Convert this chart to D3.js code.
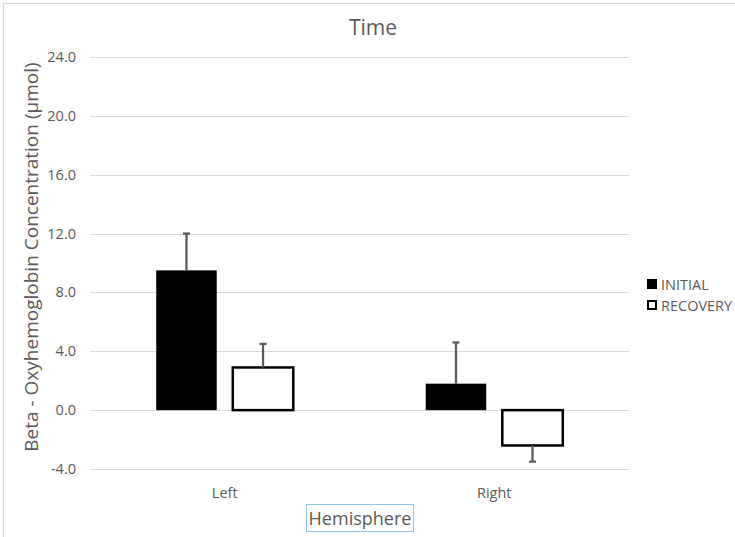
<!DOCTYPE html>
<html>
<head>
<meta charset="utf-8">
<script src="https://cdn.jsdelivr.net/npm/d3@7"></script>
<style>
  body { margin: 0; background: #fff; }
  svg text { font-family: "Open Sans", sans-serif; fill: #595959; }
</style>
</head>
<body>
<svg width="735" height="537"></svg>
<script>
var categories = ["Left", "Right"];
var seriesNames = ["INITIAL", "RECOVERY"];
var initialValues = [9.5, 1.8];
var recoveryValues = [2.9, -2.4];
var initialErrors = [2.5, 2.8];
var recoveryErrors = [1.6, 1.1];
var yTicks = [-4, 0, 4, 8, 12, 16, 20, 24];

var svg = d3.select("svg");

// chart border (cropped screenshot)
svg.append("rect")
    .attr("x", 3.5).attr("y", 3.5)
    .attr("width", 760).attr("height", 560)
    .attr("fill", "none")
    .attr("stroke", "#d9d9d9");

var x0 = d3.scaleBand().domain(categories).range([90, 629]);
var x1 = d3.scaleBand().domain(seriesNames).range([0, x0.bandwidth()])
    .paddingInner(0.21).paddingOuter(0.865);
var y = d3.scaleLinear().domain([-4, 24]).range([469, 57]);

// gridlines
svg.append("g").selectAll("line")
    .data(yTicks)
    .enter().append("line")
    .attr("x1", 90).attr("x2", 629)
    .attr("y1", function(d) { return Math.round(y(d)) + 0.5; })
    .attr("y2", function(d) { return Math.round(y(d)) + 0.5; })
    .attr("stroke", "#d9d9d9");

// y tick labels
svg.append("g").selectAll("text")
    .data(yTicks)
    .enter().append("text")
    .attr("x", 76)
    .attr("y", function(d) { return y(d) + 5; })
    .attr("text-anchor", "end")
    .style("font-size", "14.5px")
    .text(function(d) { return d.toFixed(1); });

var rows = [];
categories.forEach(function(c, i) {
    rows.push({cat: c, s: "INITIAL", v: initialValues[i], e: initialErrors[i]});
    rows.push({cat: c, s: "RECOVERY", v: recoveryValues[i], e: recoveryErrors[i]});
});

var bars = svg.append("g");
bars.selectAll("rect")
    .data(rows)
    .enter().append("rect")
    .attr("x", function(d) { return x0(d.cat) + x1(d.s); })
    .attr("y", function(d) { return y(Math.max(0, d.v)); })
    .attr("width", x1.bandwidth())
    .attr("height", function(d) { return Math.abs(y(d.v) - y(0)); })
    .attr("fill", function(d) { return d.s == "INITIAL" ? "#000" : "#fff"; })
    .attr("stroke", "#000")
    .attr("stroke-width", function(d) { return d.s == "INITIAL" ? 0 : 2.5; });

// error bars (one direction, away from zero)
var err = svg.append("g").attr("stroke", "#595959").attr("stroke-width", 2.25);
rows.forEach(function(d) {
    var cx = x0(d.cat) + x1(d.s) + x1.bandwidth() / 2;
    var end = d.v >= 0 ? d.v + d.e : d.v - d.e;
    err.append("line")
        .attr("x1", cx).attr("x2", cx)
        .attr("y1", y(d.v)).attr("y2", y(end));
    err.append("line")
        .attr("x1", cx - 3.5).attr("x2", cx + 3.5)
        .attr("y1", y(end)).attr("y2", y(end));
});

// category labels
svg.append("g").selectAll("text")
    .data(categories)
    .enter().append("text")
    .attr("x", function(d) { return x0(d) + x0.bandwidth() / 2; })
    .attr("y", 498)
    .attr("text-anchor", "middle")
    .style("font-size", "14.5px")
    .text(function(d) { return d; });

// title
svg.append("text")
    .attr("x", 373).attr("y", 35)
    .attr("text-anchor", "middle")
    .style("font-size", "21px")
    .text("Time");

// y axis title
svg.append("text")
    .attr("transform", "translate(38,257) rotate(-90)")
    .attr("text-anchor", "middle")
    .style("font-size", "19px")
    .text("Beta - Oxyhemoglobin Concentration (µmol)");

// x axis title with box
svg.append("rect")
    .attr("x", 306.5).attr("y", 504.5)
    .attr("width", 107).attr("height", 27)
    .attr("fill", "none")
    .attr("stroke", "#8cc6ef");
svg.append("text")
    .attr("x", 360).attr("y", 525)
    .attr("text-anchor", "middle")
    .style("font-size", "18px")
    .text("Hemisphere");

// legend
var legend = svg.append("g").selectAll("g")
    .data(seriesNames)
    .enter().append("g")
    .attr("transform", function(d, i) { return "translate(647," + (279 + i * 21) + ")"; });
legend.append("rect")
    .attr("x", function(d) { return d == "INITIAL" ? 0 : 1; })
    .attr("y", function(d) { return d == "INITIAL" ? 0 : 1; })
    .attr("width", function(d) { return d == "INITIAL" ? 10 : 8; })
    .attr("height", function(d) { return d == "INITIAL" ? 10 : 8; })
    .attr("fill", function(d) { return d == "INITIAL" ? "#000" : "#fff"; })
    .attr("stroke", "#000")
    .attr("stroke-width", function(d) { return d == "INITIAL" ? 0 : 2; });
legend.append("text")
    .attr("x", 14).attr("y", 10.5)
    .style("font-size", "14.5px")
    .text(function(d) { return d; });
</script>
</body>
</html>
